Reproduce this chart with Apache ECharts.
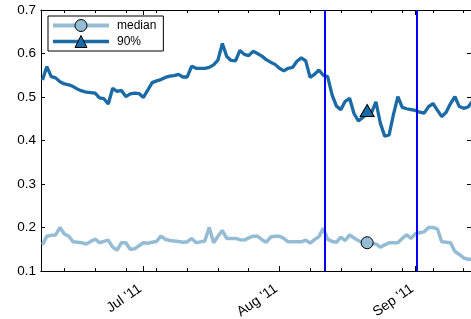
<!DOCTYPE html>
<html><head><meta charset="utf-8">
<script src="https://cdn.jsdelivr.net/npm/echarts@6/dist/echarts.min.js"></script>
<style>html,body{margin:0;padding:0;background:#fff}#c{width:471px;height:319px}</style>
</head><body><div id="c"></div>
<script>
const startDate = '2011-06-08';
const p90 = [0.539,0.570,0.547,0.544,0.535,0.530,0.528,0.524,0.518,0.514,
0.511,0.510,0.509,0.498,0.496,0.484,0.520,0.513,0.515,0.501,
0.507,0.509,0.508,0.499,0.516,0.533,0.537,0.540,0.545,0.548,
0.549,0.552,0.546,0.546,0.571,0.566,0.566,0.566,0.568,0.574,
0.585,0.623,0.593,0.584,0.583,0.607,0.598,0.595,0.605,0.600,
0.594,0.586,0.580,0.575,0.566,0.560,0.566,0.568,0.582,0.590,
0.583,0.545,0.552,0.562,0.550,0.547,0.505,0.479,0.471,0.490,
0.497,0.462,0.445,0.453,0.462,0.464,0.489,0.440,0.410,0.413,
0.460,0.501,0.476,0.473,0.471,0.469,0.465,0.463,0.478,0.485,
0.470,0.455,0.465,0.485,0.501,0.478,0.474,0.477,0.490];
const median = [0.160,0.180,0.182,0.183,0.200,0.185,0.180,0.167,0.166,0.165,
0.162,0.168,0.173,0.165,0.168,0.171,0.155,0.148,0.165,0.165,
0.150,0.151,0.158,0.165,0.164,0.166,0.168,0.180,0.173,0.170,
0.169,0.168,0.166,0.167,0.175,0.165,0.167,0.169,0.200,0.165,
0.180,0.193,0.175,0.175,0.175,0.172,0.171,0.176,0.180,0.180,
0.172,0.166,0.178,0.180,0.180,0.175,0.167,0.167,0.167,0.167,
0.171,0.164,0.172,0.179,0.198,0.173,0.168,0.166,0.178,0.170,
0.183,0.176,0.170,0.165,0.164,0.164,0.162,0.155,0.160,0.165,
0.165,0.165,0.175,0.183,0.175,0.186,0.188,0.190,0.200,0.200,
0.197,0.167,0.166,0.165,0.145,0.138,0.130,0.127,0.127];
const monthTicks = ['2011-07-01','2011-08-01','2011-09-01'];
const monthLabels = ["Jul '11","Aug '11","Sep '11"];
const weekTicks = ['2011-06-13','2011-06-20','2011-06-27','2011-07-04','2011-07-11','2011-07-18','2011-07-25',
'2011-08-01','2011-08-08','2011-08-15','2011-08-22','2011-08-29','2011-09-05','2011-09-12'];
const eventDates = ['2011-08-11T06:00','2011-09-01T06:00'];
const markerDate = '2011-08-21';
const markerMedian = 0.165;
const marker90 = 0.469;
const xRange = ['2011-06-07T16:00','2011-09-13T16:00'];

const ts = s => Date.parse((s.length === 10 ? s + 'T00:00' : s) + ':00Z');
const DAY = 86400000;
const t0 = ts(startDate);
const dayOf = s => (ts(s) - t0) / DAY;
const weekD = weekTicks.map(dayOf);
const monthD = monthTicks.map(dayOf);
const xMin = dayOf(xRange[0]), xMax = dayOf(xRange[1]);
const FONT = 'Liberation Sans';
const c90 = '#1a6aa5', cMed = '#94bdd5';

function monthLabel(v) {
  let best = 0, bd = Infinity;
  monthD.forEach((m, i) => { const d = Math.abs(m - v); if (d < bd) { bd = d; best = i; } });
  return monthLabels[best];
}
const baseX = (pos) => ({
  type: 'value', min: xMin, max: xMax, position: pos,
  splitLine: { show: false },
  axisLine: { show: true, onZero: false, lineStyle: { color: '#000', width: 1 } }
});
const chart = echarts.init(document.getElementById('c'), null, { renderer: 'canvas' });
chart.setOption({
  animation: false,
  grid: { left: 41, right: 0, top: 10, bottom: 48, containLabel: false, outerBoundsMode: 'none' },
  legend: {
    data: [
      { name: 'median', lineStyle: { color: cMed, width: 4 }, itemStyle: { color: cMed, borderColor: '#000', borderWidth: 1 } },
      { name: '90%', lineStyle: { color: c90, width: 3.5 }, itemStyle: { color: c90, borderColor: '#000', borderWidth: 1 } }
    ],
    orient: 'vertical', left: 48, top: 16,
    itemWidth: 56, itemHeight: 15, itemGap: 3, padding: [3, 7, 3, 3],
    borderColor: '#000', borderWidth: 1, backgroundColor: '#fff',
    textStyle: { fontSize: 12, fontFamily: FONT, color: '#000', padding: [0, 0, 0, 3] }
  },
  xAxis: [
    Object.assign(baseX('bottom'), { axisTick: { show: true, inside: true, length: 3, customValues: weekD, lineStyle: { color: '#000' } }, axisLabel: { show: false } }),
    Object.assign(baseX('bottom'), { axisTick: { show: true, inside: true, length: 5, customValues: monthD, lineStyle: { color: '#000' } },
      axisLabel: { show: true, customValues: monthD, rotate: 35, margin: 14, padding: [0, 4, 0, 0], fontSize: 14, fontFamily: FONT, color: '#000', formatter: v => monthLabel(v) } }),
    Object.assign(baseX('top'), { axisTick: { show: true, inside: true, length: 3, customValues: weekD, lineStyle: { color: '#000' } }, axisLabel: { show: false } }),
    Object.assign(baseX('top'), { axisTick: { show: true, inside: true, length: 5, customValues: monthD, lineStyle: { color: '#000' } }, axisLabel: { show: false } })
  ],
  yAxis: [
    { type: 'value', min: 0.1, max: 0.7, interval: 0.1, position: 'left', splitLine: { show: false },
      axisLine: { show: true, onZero: false, lineStyle: { color: '#000', width: 1 } },
      axisTick: { show: true, inside: true, length: 4, lineStyle: { color: '#000' } },
      axisLabel: { show: true, margin: 5, fontSize: 13.5, fontFamily: FONT, color: '#000', formatter: v => v.toFixed(1) } },
    { type: 'value', min: 0.1, max: 0.7, interval: 0.1, position: 'right', splitLine: { show: false },
      axisLine: { show: true, onZero: false, lineStyle: { color: '#000', width: 1 } },
      axisTick: { show: true, inside: true, length: 4, lineStyle: { color: '#000' } },
      axisLabel: { show: false } }
  ],
  series: [
    { name: 'median', type: 'line', xAxisIndex: 0, yAxisIndex: 0,
      data: median.map((v, i) => [i, v]),
      symbol: 'circle', showSymbol: false, z: 3,
      lineStyle: { color: cMed, width: 3.5 },
      itemStyle: { color: cMed, borderColor: '#000', borderWidth: 1 },
      markPoint: { symbol: 'circle', symbolSize: 12, label: { show: false }, silent: true,
        itemStyle: { color: cMed, borderColor: '#000', borderWidth: 1 },
        data: [{ coord: [dayOf(markerDate), markerMedian] }] } },
    { name: '90%', type: 'line', xAxisIndex: 0, yAxisIndex: 0,
      data: p90.map((v, i) => [i, v]),
      symbol: 'triangle', showSymbol: false, z: 3,
      lineStyle: { color: c90, width: 3.3 },
      itemStyle: { color: c90, borderColor: '#000', borderWidth: 1 },
      markPoint: { symbol: 'triangle', symbolSize: [14, 12], label: { show: false }, silent: true,
        itemStyle: { color: c90, borderColor: '#000', borderWidth: 1 },
        data: [{ coord: [dayOf(markerDate), marker90] }] },
      markLine: { symbol: ['none', 'none'], silent: true, label: { show: false }, z: 5,
        lineStyle: { color: '#0000ff', width: 2, type: 'solid' },
        data: eventDates.map(d => ({ xAxis: dayOf(d) })) } }
  ]
});
</script></body></html>
